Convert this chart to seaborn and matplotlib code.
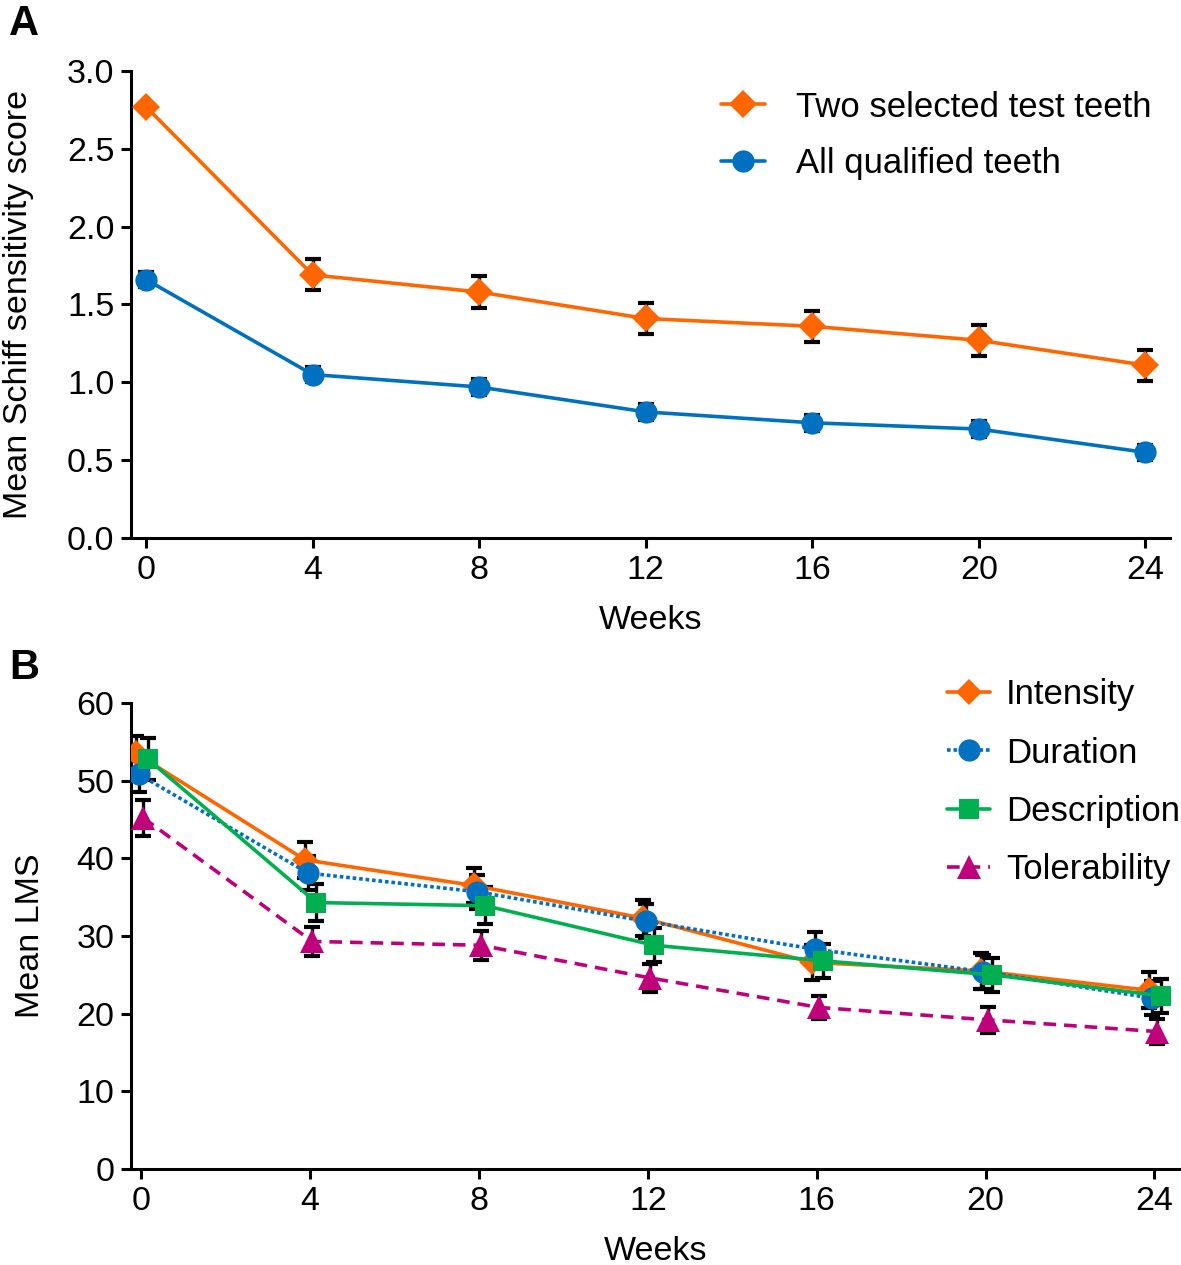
import numpy as np
import pandas as pd
import matplotlib
matplotlib.use("Agg")
import matplotlib.pyplot as plt
import seaborn as sns

# ---------------- data ----------------
weeks = [0, 4, 8, 12, 16, 20, 24]

# Panel A
two_teeth = [2.77, 1.69, 1.58, 1.41, 1.36, 1.27, 1.11]
two_teeth_err = [0.02, 0.10, 0.10, 0.10, 0.10, 0.10, 0.10]
all_teeth = [1.66, 1.05, 0.97, 0.81, 0.74, 0.70, 0.55]
all_teeth_err = [0.05, 0.05, 0.05, 0.05, 0.05, 0.05, 0.05]
series_a = ["Two selected test teeth", "All qualified teeth"]

# Panel B
intensity = [53.5, 39.8, 36.5, 32.3, 26.6, 25.5, 23.0]
intensity_err = [2.3, 2.3, 2.3, 2.3, 2.3, 2.3, 2.3]
duration = [50.8, 38.1, 35.7, 31.9, 28.3, 25.4, 22.0]
duration_err = [2.3, 2.2, 2.2, 2.2, 2.2, 2.2, 2.2]
description = [52.8, 34.3, 33.9, 28.8, 26.8, 25.0, 22.3]
description_err = [2.7, 2.4, 2.4, 2.2, 2.2, 2.2, 2.2]
tolerability = [45.2, 29.3, 28.8, 24.6, 20.8, 19.2, 17.7]
tolerability_err = [2.3, 1.9, 1.9, 1.8, 1.5, 1.7, 1.6]
series_b = ["Intensity", "Duration", "Description", "Tolerability"]

# ---------------- style ----------------
sns.set_theme(style="ticks")
plt.rcParams["font.family"] = ["Liberation Sans", "DejaVu Sans"]
plt.rcParams["text.color"] = "black"
plt.rcParams["axes.labelcolor"] = "black"

ORANGE = "#FF6600"
BLUE = "#0070C0"
GREEN = "#00B050"
MAGENTA = "#C0007A"

FS = 24.5

fig = plt.figure(figsize=(11.81, 12.65), dpi=100)
axA = fig.add_axes([0.111, 0.5747, 0.880, 0.3692])
axB = fig.add_axes([0.111, 0.0759, 0.888, 0.3684])


def style_axis(ax):
    for s in ["top", "right"]:
        ax.spines[s].set_visible(False)
    for s in ["left", "bottom"]:
        ax.spines[s].set_linewidth(2.2)
        ax.spines[s].set_color("black")
    ax.tick_params(axis="both", direction="out", length=7, width=2.2,
                   labelsize=FS, colors="black", labelcolor="black", pad=5)


# ---------------- Panel A ----------------
dfA = pd.DataFrame({
    "Weeks": weeks * 2,
    "score": two_teeth + all_teeth,
    "err": two_teeth_err + all_teeth_err,
    "series": [series_a[0]] * 7 + [series_a[1]] * 7,
})
palA = {series_a[0]: ORANGE, series_a[1]: BLUE}
markA = {series_a[0]: "D", series_a[1]: "o"}
for name in series_a:
    d = dfA[dfA.series == name]
    axA.errorbar(d["Weeks"], d["score"], yerr=d["err"], fmt="none",
                 ecolor="black", elinewidth=2.4, capsize=5.5, capthick=3, zorder=2)
for name in series_a:
    d = dfA[dfA.series == name]
    sns.lineplot(data=d, x="Weeks", y="score", ax=axA, color=palA[name],
                 marker=markA[name], markersize=16 if markA[name] == "o" else 14,
                 markeredgewidth=0, linewidth=2.6, label=name, zorder=3)

axA.set_xlim(-0.36, 24.6)
axA.set_ylim(0, 3.0)
axA.set_xticks([0, 4, 8, 12, 16, 20, 24])
axA.set_yticks([0.0, 0.5, 1.0, 1.5, 2.0, 2.5, 3.0])
axA.set_yticklabels([f"{v:.1f}" for v in [0.0, 0.5, 1.0, 1.5, 2.0, 2.5, 3.0]])
axA.set_xlabel("Weeks", fontsize=FS, labelpad=14)
axA.set_ylabel("Mean Schiff sensitivity score", fontsize=FS, labelpad=24)
style_axis(axA)
legA = axA.legend(loc="upper right", bbox_to_anchor=(1.012, 1.025), frameon=False,
                  fontsize=FS + 0.5, handlelength=1.25, labelspacing=0.67,
                  handletextpad=0.9)
fig.text(0.008, 0.997, "A", fontsize=30, fontweight="bold", va="top", ha="left")

# ---------------- Panel B ----------------
offsets = {"Intensity": -0.12, "Duration": -0.05, "Description": 0.15, "Tolerability": 0.05}
vals = {"Intensity": (intensity, intensity_err), "Duration": (duration, duration_err),
        "Description": (description, description_err),
        "Tolerability": (tolerability, tolerability_err)}
rows = []
for name in series_b:
    v, e = vals[name]
    for w, y, er in zip(weeks, v, e):
        rows.append({"Weeks": w + offsets[name], "lms": y, "err": er, "series": name})
dfB = pd.DataFrame(rows)

palB = {"Intensity": ORANGE, "Duration": BLUE, "Description": GREEN, "Tolerability": MAGENTA}
markB = {"Intensity": "D", "Duration": "o", "Description": "s", "Tolerability": "^"}
lsB = {"Intensity": "-", "Duration": (0, (1, 0.8)), "Description": "-", "Tolerability": (0, (3.5, 2.2))}
msB = {"Intensity": 13, "Duration": 16, "Description": 15, "Tolerability": 17}

for name in series_b:
    d = dfB[dfB.series == name]
    axB.errorbar(d["Weeks"], d["lms"], yerr=d["err"], fmt="none",
                 ecolor="black", elinewidth=2.4, capsize=5.5, capthick=3, zorder=2)
for name in series_b:
    d = dfB[dfB.series == name]
    sns.lineplot(data=d, x="Weeks", y="lms", ax=axB, color=palB[name],
                 marker=markB[name], markersize=msB[name], markeredgewidth=0,
                 linewidth=2.6, linestyle=lsB[name], label=name, zorder=3)

axB.set_xlim(-0.24, 24.6)
axB.set_ylim(0, 60)
axB.set_xticks([0, 4, 8, 12, 16, 20, 24])
axB.set_yticks([0, 10, 20, 30, 40, 50, 60])
axB.set_xlabel("Weeks", fontsize=FS, labelpad=14)
axB.set_ylabel("Mean LMS", fontsize=FS, labelpad=22)
style_axis(axB)
legB = axB.legend(loc="upper right", bbox_to_anchor=(1.03, 1.12), frameon=False,
                  fontsize=FS + 0.5, handlelength=1.25, labelspacing=0.73,
                  handletextpad=0.45)
fig.text(0.008, 0.488, "B", fontsize=30, fontweight="bold", va="top", ha="left")

fig.savefig("out.png", dpi=100)
